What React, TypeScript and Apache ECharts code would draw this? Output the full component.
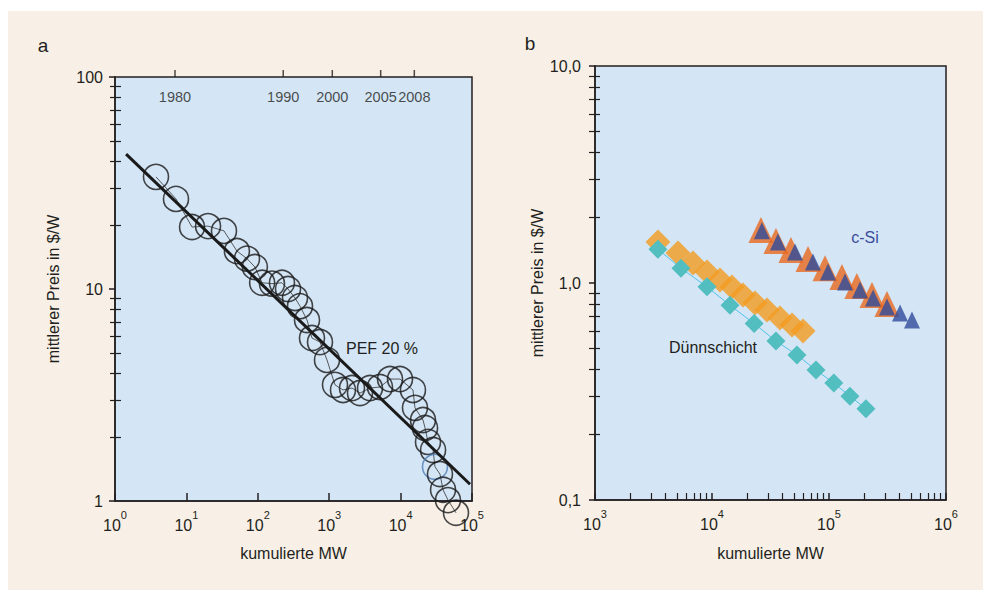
import React, { useEffect, useRef } from 'react';
import * as echarts from 'echarts';

// ---- Panel a: learning curve (cumulative MW vs price) ----
const circleX = [3.75, 7.15, 12.0, 20.1, 33.6, 51, 70.6, 91, 115, 158, 218, 265, 332, 390, 489, 574, 743, 931, 1206, 1560, 2085, 2700, 3725, 5140, 7110, 9810, 14900, 15900, 20600, 22000, 24200, 28500, 30300, 35600, 39300, 46100, 59700];
const circleY = [33.8, 26.6, 19.6, 19.8, 18.8, 15.1, 13.9, 12.7, 10.7, 10.6, 10.7, 10.0, 9.07, 8.3, 7.14, 5.87, 5.62, 4.63, 3.53, 3.34, 3.41, 3.23, 3.41, 3.45, 3.76, 3.76, 3.34, 2.75, 2.41, 2.21, 1.9, 1.74, 1.45, 1.34, 1.13, 1.01, 0.88];
const highlightedCircle = 32;
const fitX = [1.43, 93800];
const fitY = [43.3, 1.2];
const yearValues = [6.92, 227, 1105, 5260, 15560];
const yearLabels = ['1980', '1990', '2000', '2005', '2008'];
const yearAxisTop = 100;
const minorA = [2, 3, 4, 5, 6, 7, 8, 9, 20, 30, 40, 50, 60, 70, 80, 90];

// ---- Panel b: thin film vs c-Si ----
const thinOrangeX = [3450, 5120, 6880, 9070, 11700, 14800, 18400, 23300, 29500, 38100, 48300, 60000];
const thinOrangeY = [1.545, 1.375, 1.236, 1.124, 1.032, 0.958, 0.881, 0.809, 0.751, 0.69, 0.64, 0.601];
const thinTealX = [3450, 5430, 9060, 14250, 22900, 35200, 53200, 77400, 110000, 151000, 207000];
const thinTealY = [1.43, 1.17, 0.96, 0.79, 0.65, 0.54, 0.466, 0.397, 0.346, 0.301, 0.263];
const siOrangeX = [26200, 35200, 47300, 66200, 92500, 129000, 173000, 233000, 313000];
const siOrangeY = [1.755, 1.56, 1.42, 1.29, 1.17, 1.066, 0.969, 0.881, 0.8];
const siBlueX = [26700, 36600, 51200, 72900, 98000, 137000, 184000, 238000, 313000, 405000, 512000];
const siBlueY = [1.74, 1.545, 1.39, 1.25, 1.124, 1.01, 0.929, 0.853, 0.775, 0.727, 0.675];
const minorBX = [2000, 3000, 4000, 5000, 6000, 7000, 8000, 9000, 20000, 30000, 40000, 50000, 60000, 70000, 80000, 90000, 200000, 300000, 400000, 500000, 600000, 700000, 800000, 900000];
const minorBY = [0.2, 0.3, 0.4, 0.5, 0.6, 0.7, 0.8, 0.9, 2, 3, 4, 5, 6, 7, 8, 9];

const FONT = "'Liberation Sans Narrow', 'Liberation Sans', sans-serif";
const INK = '#231f20';
const PLOT_BG = '#d4e5f5';
const FS = 16;

const zip = (xs: number[], ys: number[]) => xs.map((x, i) => [x, ys[i]]);

const supRich = {
  b: { fontSize: FS, fontFamily: FONT, color: INK, lineHeight: 24, verticalAlign: 'bottom' },
  s: { fontSize: 11, fontFamily: FONT, color: INK, lineHeight: 24, verticalAlign: 'top' },
};
const supFormatter = (v: number) => `{b|10}{s|${Math.round(Math.log10(v))}}`;

const nameStyle = { fontSize: FS, fontFamily: FONT, color: INK };
const lineStyle = { color: INK, width: 1.5 };

export default function App() {
  const ref = useRef<HTMLDivElement>(null);
  useEffect(() => {
    if (!ref.current) return;
    const chart = echarts.init(ref.current, undefined, { renderer: 'svg' });
    const option: any = {
      animation: false,
      textStyle: { fontFamily: FONT },
      grid: [
        { left: 115, top: 77, width: 357, height: 424, show: true, backgroundColor: PLOT_BG, borderColor: INK, borderWidth: 1.5 },
        { left: 595, top: 66, width: 351, height: 434, show: true, backgroundColor: PLOT_BG, borderColor: INK, borderWidth: 1.5 },
      ],
      xAxis: [
        {
          gridIndex: 0, type: 'log', logBase: 10, min: 1, max: 100000, position: 'bottom',
          axisLine: { lineStyle },
          axisTick: { inside: true, length: 8, lineStyle },
          axisLabel: { formatter: supFormatter, rich: supRich, margin: 8 },
          splitLine: { show: false },
          name: 'kumulierte MW', nameLocation: 'middle', nameGap: 44, nameTextStyle: nameStyle,
        },
        {
          gridIndex: 1, type: 'log', logBase: 10, min: 1000, max: 1000000, position: 'bottom',
          axisLine: { lineStyle },
          axisTick: { inside: true, length: 7, lineStyle },
          axisLabel: { formatter: supFormatter, rich: supRich, margin: 8 },
          splitLine: { show: false },
          name: 'kumulierte MW', nameLocation: 'middle', nameGap: 45, nameTextStyle: nameStyle,
        },
        {
          gridIndex: 1, type: 'log', logBase: 10, min: 1000, max: 1000000, position: 'bottom',
          axisLine: { show: false },
          axisTick: { show: true, inside: true, customValues: minorBX, length: 7, lineStyle: { color: INK, width: 1.2 } },
          axisLabel: { show: false },
          splitLine: { show: false },
        },
      ],
      yAxis: [
        {
          gridIndex: 0, type: 'log', logBase: 10, min: 1, max: 100, position: 'left',
          axisLine: { lineStyle },
          axisTick: { length: 6, lineStyle },
          axisLabel: { formatter: (v: number) => String(Math.round(v)), margin: 12, fontSize: FS, fontFamily: FONT, color: INK },
          splitLine: { show: false },
          name: 'mittlerer Preis in $/W', nameLocation: 'middle', nameGap: 54, nameTextStyle: nameStyle,
        },
        {
          gridIndex: 0, type: 'log', logBase: 10, min: 1, max: 100, position: 'left', offset: -6,
          axisLine: { show: false },
          axisTick: { show: true, customValues: minorA, length: 11, lineStyle: { color: INK, width: 1.2 } },
          axisLabel: { show: false },
          splitLine: { show: false },
        },
        {
          gridIndex: 1, type: 'log', logBase: 10, min: 0.1, max: 10, position: 'left',
          axisLine: { lineStyle },
          axisTick: { length: 6, lineStyle },
          axisLabel: { formatter: (v: number) => v.toFixed(1).replace('.', ','), margin: 14, fontSize: FS, fontFamily: FONT, color: INK },
          splitLine: { show: false },
          name: 'mittlerer Preis in $/W', nameLocation: 'middle', nameGap: 49, nameTextStyle: nameStyle,
        },
        {
          gridIndex: 1, type: 'log', logBase: 10, min: 0.1, max: 10, position: 'left', offset: -5,
          axisLine: { show: false },
          axisTick: { show: true, customValues: minorBY, length: 11, lineStyle: { color: INK, width: 1.2 } },
          axisLabel: { show: false },
          splitLine: { show: false },
        },
      ],
      series: [
        {
          type: 'line', xAxisIndex: 0, yAxisIndex: 0, clip: false, symbol: 'none',
          data: zip(circleX, circleY), lineStyle: { color: '#333', width: 0.8 }, z: 2,
        },
        {
          type: 'scatter', xAxisIndex: 0, yAxisIndex: 0, clip: false, symbol: 'circle', symbolSize: 25,
          data: zip(circleX, circleY).map((p, i) => i === highlightedCircle
            ? { value: p, itemStyle: { borderColor: '#4d7db6' } }
            : { value: p }),
          itemStyle: { color: 'rgba(0,0,0,0)', borderColor: '#1a1a1a', borderWidth: 1.6 }, z: 3,
        },
        {
          type: 'line', xAxisIndex: 0, yAxisIndex: 0, clip: false, symbol: 'none',
          data: zip(fitX, fitY), lineStyle: { color: '#1a1a1a', width: 3 }, z: 4,
        },
        {
          // year markers along the top edge of panel a
          type: 'scatter', xAxisIndex: 0, yAxisIndex: 0, clip: false, symbol: 'rect',
          symbolSize: [1.5, 7], symbolOffset: [0, -3.5], silent: true,
          data: yearValues.map((v, i) => ({ name: yearLabels[i], value: [v, yearAxisTop] })),
          itemStyle: { color: INK },
          label: { show: true, position: 'bottom', distance: 12, formatter: '{b}', fontSize: 14.5, fontFamily: FONT, color: INK },
          labelLayout: { hideOverlap: false }, z: 5,
        },
        {
          type: 'scatter', xAxisIndex: 1, yAxisIndex: 2, symbol: 'triangle', symbolSize: [25, 26],
          data: zip(siOrangeX, siOrangeY), itemStyle: { color: '#e9691f' }, z: 2,
        },
        {
          type: 'scatter', xAxisIndex: 1, yAxisIndex: 2, symbol: 'triangle', symbolSize: [16, 17],
          data: zip(siBlueX, siBlueY), itemStyle: { color: '#2e4b9b' }, z: 3,
        },
        {
          type: 'scatter', xAxisIndex: 1, yAxisIndex: 2, symbol: 'diamond', symbolSize: [25, 25],
          data: zip(thinOrangeX, thinOrangeY), itemStyle: { color: '#f39b1f' }, z: 4,
        },
        {
          type: 'line', xAxisIndex: 1, yAxisIndex: 2, symbol: 'diamond', symbolSize: 19, showAllSymbol: true,
          data: zip(thinTealX, thinTealY), lineStyle: { color: '#4fc3ea', width: 1 },
          itemStyle: { color: '#52bec0' }, z: 5,
        },
      ],
      graphic: [
        { type: 'text', x: 43, y: 45, style: { text: 'a', fill: INK, font: `19px ${FONT}`, align: 'center', verticalAlign: 'middle' } },
        { type: 'text', x: 530, y: 43, style: { text: 'b', fill: INK, font: `19px ${FONT}`, align: 'center', verticalAlign: 'middle' } },
        { type: 'text', x: 382, y: 348, style: { text: 'PEF 20 %', fill: INK, font: `${FS}px ${FONT}`, align: 'center', verticalAlign: 'middle' } },
        { type: 'text', x: 713, y: 347, style: { text: 'Dünnschicht', fill: INK, font: `${FS}px ${FONT}`, align: 'center', verticalAlign: 'middle' } },
        { type: 'text', x: 865, y: 237, style: { text: 'c-Si', fill: '#3c4c9c', font: `${FS}px ${FONT}`, align: 'center', verticalAlign: 'middle' } },
      ],
    };
    chart.setOption(option);
    return () => chart.dispose();
  }, []);
  return (
    <div style={{ position: 'fixed', left: 0, top: 0, width: 983, height: 590, background: '#ffffff' }}>
      <div style={{ position: 'absolute', left: 8, top: 11, width: 975, height: 579, background: '#f8f0e6' }} />
      <div ref={ref} style={{ position: 'absolute', left: 0, top: 0, width: 983, height: 590 }} />
    </div>
  );
}
